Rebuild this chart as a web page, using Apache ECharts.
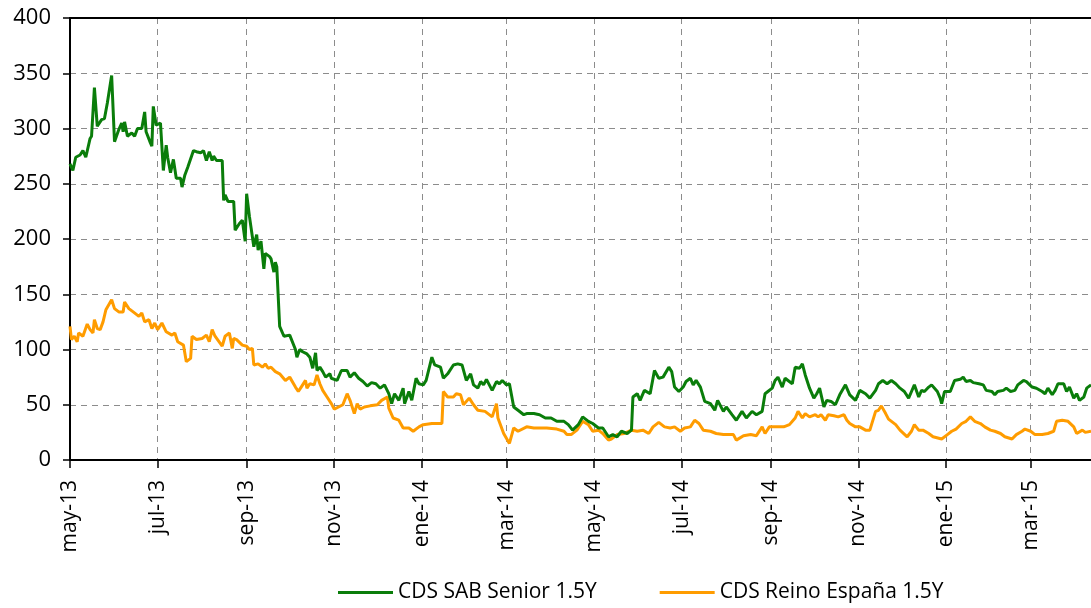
<!DOCTYPE html>
<html>
<head>
<meta charset="utf-8">
<script src="https://cdn.jsdelivr.net/npm/echarts@6/dist/echarts.min.js"></script>
<style>
  html, body { margin: 0; padding: 0; background: #ffffff; }
  #chart { width: 1091px; height: 608px; }
</style>
</head>
<body>
<div id="chart"></div>
<script>
// ---- Data ----
const startDate = '2013-05-01';
const totalDays = 712; // 2013-05-01 .. 2015-04-12

const tickDates  = ['2013-05-01','2013-07-01','2013-09-01','2013-11-01','2014-01-01','2014-03-01',
                    '2014-05-01','2014-07-01','2014-09-01','2014-11-01','2015-01-01','2015-03-01'];
const tickLabels = ['may-13','jul-13','sep-13','nov-13','ene-14','mar-14',
                    'may-14','jul-14','sep-14','nov-14','ene-15','mar-15'];

const yTicks = [0, 50, 100, 150, 200, 250, 300, 350, 400];

const seriesNames = ['CDS SAB Senior 1.5Y', 'CDS Reino España 1.5Y'];

// CDS SAB Senior 1.5Y : day offset from startDate, value (bp)
const sabDays = [0,2,4,7,9,11,14,15,17,19,22,24,26,29,31,34,36,37,38,40,43,45,47,50,52,53,56,57,58,60,63,65,67,68,70,72,74,77,78,80,82,86,88,91,93,95,97,99,100,102,106,107,108,110,114,115,118,120,122,123,125,128,130,131,133,135,136,139,140,142,143,144,146,149,153,157,158,160,162,165,167,169,171,172,174,176,178,181,182,186,189,193,195,198,201,204,207,210,213,216,219,222,224,226,229,232,233,236,238,241,243,246,248,252,254,258,260,263,267,270,273,276,279,281,284,286,288,290,294,297,299,301,304,306,309,312,316,318,323,327,331,335,339,344,347,350,354,357,361,364,368,371,375,378,381,384,388,391,392,395,397,400,404,407,410,413,417,419,421,424,427,429,432,434,436,439,442,446,449,451,455,457,461,464,468,471,475,478,482,484,486,489,491,493,496,498,500,503,505,508,510,512,515,518,520,522,525,527,530,533,536,540,543,547,550,554,557,561,563,566,569,572,575,578,581,584,586,588,591,593,595,598,600,604,606,607,609,613,616,620,622,624,627,629,633,636,638,642,644,646,650,652,655,658,660,664,666,670,673,677,679,681,684,686,688,692,694,696,699,701,703,706,708,711];
const sabValues = [268,262,274,276,280,274,291,293,337,302,308,309,323,348,288,299,305,297,306,293,296,293,300,300,315,297,287,284,320,303,305,262,285,274,260,272,255,255,247,258,265,280,279,278,280,271,279,271,275,271,271,235,240,234,234,208,214,217,198,241,220,193,204,190,198,173,187,184,182,170,179,175,121,112,113,100,93,100,98,96,93,83,97,81,84,80,75,78,74,72,81,81,75,79,74,71,67,70,69,65,68,60,51,60,54,65,51,62,54,74,69,68,72,93,86,84,74,78,86,87,86,72,78,68,65,71,68,73,63,71,69,72,68,69,48,45,41,42,42,41,38,38,35,35,32,27,32,39,35,33,29,29,21,23,21,26,24,27,57,60,54,63,60,81,74,75,84,80,66,62,66,71,74,68,72,66,53,51,45,54,44,48,41,36,44,38,44,41,44,60,62,65,72,75,66,74,72,69,84,83,87,77,65,56,60,65,48,54,53,50,59,68,59,54,63,60,56,63,69,72,69,72,69,65,62,56,62,68,57,63,62,66,68,62,56,51,62,62,72,73,75,71,72,70,69,68,63,62,59,62,63,65,62,63,68,72,71,66,65,62,60,65,59,63,69,69,62,66,56,60,54,57,65,68];

// CDS Reino España 1.5Y : day offset from startDate, value (bp)
const reinoDays = [0,1,3,5,6,9,12,14,16,17,19,21,23,25,29,31,34,37,38,41,44,48,50,52,55,57,59,61,64,67,71,73,75,79,81,84,85,88,92,95,97,99,101,106,108,111,113,114,116,120,123,125,127,128,131,134,136,138,140,143,146,150,153,157,159,161,164,165,167,170,172,174,176,179,182,184,187,190,193,195,198,200,202,205,209,214,217,221,222,225,229,232,236,239,243,246,252,259,260,263,267,269,272,274,278,281,284,289,294,297,298,302,306,309,312,318,323,332,339,344,346,349,353,357,361,364,368,371,375,377,381,386,391,395,399,403,406,410,414,418,421,425,428,432,435,438,441,446,450,455,462,464,469,474,478,482,484,487,492,497,501,505,507,510,512,515,519,521,523,526,528,532,535,539,541,543,547,550,554,557,561,563,565,568,570,575,578,583,586,588,591,594,598,601,607,611,614,617,621,624,627,630,634,637,641,644,648,651,656,659,663,665,669,672,677,681,685,687,691,695,699,701,705,707,711];
const reinoValues = [121,109,112,107,115,112,123,118,115,127,119,118,125,136,145,137,134,134,143,137,134,130,133,125,127,119,124,118,124,116,113,115,107,104,89,92,112,109,110,113,107,118,112,103,112,115,101,110,109,104,103,100,101,86,87,84,87,83,84,80,78,72,75,66,62,66,72,65,69,68,77,69,63,57,51,46,48,50,60,54,42,51,46,48,49,50,54,57,47,38,36,29,29,26,30,32,33,33,62,57,57,60,59,50,56,50,45,44,39,51,38,24,15,29,26,30,29,29,28,26,23,23,27,35,32,26,27,24,18,19,23,24,27,26,27,24,30,34,30,29,30,26,29,30,36,33,27,26,24,23,23,18,22,23,22,30,24,30,30,30,32,38,44,38,42,39,41,39,41,36,41,40,39,41,36,33,30,30,27,27,44,45,49,42,37,32,27,21,26,32,27,27,24,21,19,23,26,28,33,35,39,35,33,30,27,26,24,21,19,23,26,28,26,23,23,24,26,35,36,35,30,24,27,25,26];

// ---- Build category axis (one category per calendar day) ----
function dayString(offset) {
  const d = new Date(startDate + 'T00:00:00Z');
  d.setUTCDate(d.getUTCDate() + offset);
  return d.toISOString().slice(0, 10);
}
const categories = [];
for (let i = 0; i < totalDays; i++) categories.push(dayString(i));

const isTick = (idx, value) => tickDates.indexOf(value) !== -1;

const sabData = sabDays.map((d, i) => [d, sabValues[i]]);
const reinoData = reinoDays.map((d, i) => [d, reinoValues[i]]);

const FONT = 'Open Sans';

const chart = echarts.init(document.getElementById('chart'), null, { renderer: 'canvas' });
chart.setOption({
  animation: false,
  backgroundColor: '#ffffff',
  textStyle: { fontFamily: FONT, color: '#000' },
  grid: { left: 70, right: 0, top: 18, bottom: 148, containLabel: false },
  legend: {
    left: 338,
    top: 582,
    padding: 0,
    itemWidth: 55,
    itemHeight: 3,
    itemGap: 63,
    icon: 'rect',
    textStyle: { fontFamily: FONT, fontSize: 21, color: '#000' },
    data: seriesNames
  },
  xAxis: [{
    type: 'category',
    data: categories,
    boundaryGap: false,
    position: 'bottom',
    axisLine: { show: true, onZero: false, lineStyle: { color: '#000', width: 2 } },
    axisTick: { show: true, interval: isTick, length: 8, lineStyle: { color: '#000', width: 1.5 } },
    axisLabel: {
      interval: isTick,
      rotate: 90,
      margin: 20,
      fontFamily: FONT,
      fontSize: 21,
      color: '#000',
      formatter: v => tickLabels[tickDates.indexOf(v)]
    },
    splitLine: { show: true, interval: isTick, lineStyle: { color: '#8c8c8c', type: [6, 5], width: 1 } }
  }, {
    type: 'category',
    data: categories,
    boundaryGap: false,
    position: 'top',
    axisLine: { show: true, onZero: false, lineStyle: { color: '#000', width: 2 } },
    axisTick: { show: false },
    axisLabel: { show: false },
    splitLine: { show: false }
  }],
  yAxis: {
    type: 'value',
    min: yTicks[0],
    max: yTicks[yTicks.length - 1],
    interval: 50,
    axisLine: { show: true, lineStyle: { color: '#000', width: 2 } },
    axisTick: { show: true, length: 7, lineStyle: { color: '#000', width: 1.5 } },
    axisLabel: { margin: 19, fontFamily: FONT, fontSize: 22, color: '#000' },
    splitLine: { show: true, lineStyle: { color: '#8c8c8c', type: [6, 5], width: 1 } }
  },
  series: [{
    name: seriesNames[0],
    type: 'line',
    data: sabData,
    showSymbol: false,
    symbol: 'none',
    connectNulls: true,
    lineStyle: { color: '#0a7d0a', width: 3 },
    itemStyle: { color: '#0a7d0a' },
    z: 3
  }, {
    name: seriesNames[1],
    type: 'line',
    data: reinoData,
    showSymbol: false,
    symbol: 'none',
    connectNulls: true,
    lineStyle: { color: '#ff9c00', width: 3 },
    itemStyle: { color: '#ff9c00' },
    z: 2
  }]
});
</script>
</body>
</html>
